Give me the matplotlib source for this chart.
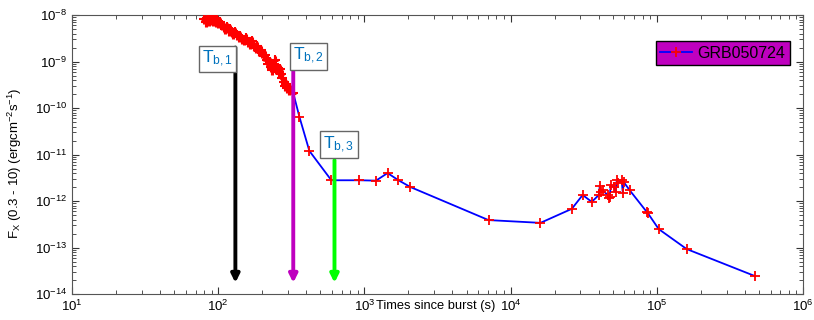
#!/usr/bin/env python3
# -*- coding: utf-8 -*-

import matplotlib
matplotlib.use('Agg')
import matplotlib.pyplot as plt
import numpy as np

plt.rcParams['font.family'] = ['Liberation Sans', 'DejaVu Sans']
plt.rcParams['mathtext.fontset'] = 'custom'
plt.rcParams['mathtext.rm'] = 'Liberation Sans'
plt.rcParams['mathtext.it'] = 'Liberation Sans'

################################################
# light curve of GRB050724 (time [s], flux [erg cm^-2 s^-1])
################################################
t_early = [80, 82, 84, 86, 88, 90, 92, 94, 96, 98, 100, 103, 106, 109, 112,
           115, 118, 121, 124, 127, 130, 134, 138, 142, 146, 150, 155, 160,
           165, 170, 175, 180, 185, 190, 195, 200, 205, 210, 215, 220, 225,
           230, 235, 240, 246, 250, 255, 260, 265, 270, 275, 280, 285, 290,
           297, 305, 312, 326]
f_early = [8.2e-9, 7.0e-9, 8.8e-9, 7.6e-9, 8.0e-9, 9.2e-9, 7.4e-9, 8.5e-9,
           7.1e-9, 7.8e-9, 6.6e-9, 7.2e-9, 6.0e-9, 5.6e-9, 5.0e-9, 5.4e-9,
           4.6e-9, 4.9e-9, 4.3e-9, 4.0e-9, 4.4e-9, 3.7e-9, 3.4e-9, 3.6e-9,
           3.1e-9, 2.9e-9, 3.2e-9, 2.6e-9, 2.4e-9, 2.7e-9, 2.2e-9, 2.0e-9,
           2.2e-9, 1.7e-9, 1.8e-9, 1.5e-9, 1.3e-9, 1.4e-9, 1.1e-9, 9.0e-10,
           1.0e-9, 7.5e-10, 6.5e-10, 7.8e-10, 1.1e-9, 6.8e-10, 7.2e-10,
           6.0e-10, 7.0e-10, 5.5e-10, 4.5e-10, 3.6e-10, 3.0e-10, 3.3e-10,
           2.7e-10, 2.5e-10, 2.6e-10, 2.1e-10]

t_late = [359, 420, 594, 925, 1200, 1440, 1710, 2065, 7060, 16000, 26200,
          31100, 35900, 40100, 40700, 41300, 42600, 46200, 46900, 47600,
          48400, 50700, 52400, 53200, 54000, 57500, 58500, 59400, 65300,
          85500, 86800, 103000, 160000, 469000]
f_late = [6.5e-11, 1.2e-11, 2.8e-12, 2.8e-12, 2.75e-12, 4.0e-12, 2.8e-12,
          2.0e-12, 3.9e-13, 3.4e-13, 6.8e-13, 1.35e-12, 9.6e-13, 1.35e-12,
          2.1e-12, 1.56e-12, 1.7e-12, 1.35e-12, 1.16e-12, 1.22e-12, 2.2e-12,
          2.0e-12, 1.56e-12, 2.83e-12, 2.44e-12, 2.83e-12, 1.49e-12,
          2.56e-12, 1.7e-12, 5.8e-13, 5.5e-13, 2.5e-13, 9.3e-14, 2.44e-14]

# break times: (time, top of arrow, label position, label, colour)
t_breaks = [131, 326, 624]
f_break_top = [2.0e-9, 1.5e-9, 7.6e-12]
label_pos = [(99, 1.13e-9), (413, 1.3e-9), (668, 1.64e-11)]
break_labels = [r'T$_{\mathregular{b,1}}$', r'T$_{\mathregular{b,2}}$', r'T$_{\mathregular{b,3}}$']
break_colors = ['black', '#BF00BF', '#00FF00']
f_arrow_tip = 1.75e-14

################################################
# plotting
################################################
def plot_curve(ax, t, f):
    """Draw the light curve with markers"""
    ax.plot(t, f, '-', color='#0000FF', lw=1.3, marker='+', mec='red',
            mfc='red', markersize=7, mew=1.3, label='GRB050724', zorder=2)

def plot_early_errors(ax, t, f):
    """Error bars of the dense early part"""
    t = np.asarray(t, dtype=float)
    f = np.asarray(f, dtype=float)
    ax.errorbar(t, f, xerr=0.04 * t, yerr=0.22 * f, fmt='+', color='red',
                ms=7, mew=1.5, elinewidth=2.2, capsize=0, zorder=3)

def plot_breaks(ax):
    """Arrows and labels at the break times"""
    for tb, ftop, pos, lab, clr in zip(t_breaks, f_break_top, label_pos,
                                         break_labels, break_colors):
        ax.annotate('', xy=(tb, f_arrow_tip), xytext=(tb, ftop),
                    arrowprops=dict(arrowstyle='-|>', color=clr, lw=2.8,
                                    mutation_scale=12, shrinkA=0, shrinkB=0),
                    zorder=4)
        ax.text(pos[0], pos[1], lab, color='#0072BD', fontsize=12.5,
                ha='center', va='center', zorder=5,
                bbox=dict(boxstyle='square,pad=0.18', fc='white', ec='#666666', lw=1))

fig = plt.figure(figsize=(8.14, 3.2), dpi=100)
ax = fig.add_axes([0.0885, 0.081, 0.898, 0.872])

t_all = t_early + t_late
f_all = f_early + f_late
plot_curve(ax, t_all, f_all)
plot_early_errors(ax, t_early, f_early)
plot_breaks(ax)

ax.set_xscale('log')
ax.set_yscale('log')
ax.set_xlim(10, 1e6)
ax.set_ylim(1e-14, 1e-8)
ax.tick_params(which='both', direction='in', top=True, right=True,
               labelsize=9.5, colors='#333333', labelcolor='black')
ax.tick_params(which='major', length=5)
ax.tick_params(which='minor', length=3)
ax.tick_params(axis='x', pad=3.5)
for sp in ax.spines.values():
    sp.set_color('#555555')

ax.set_ylabel(r'F$_{\mathregular{X}}$ (0.3 - 10) (ergcm$^{\mathregular{-2}}$s$^{\mathregular{-1}}$)',
              fontsize=9.5)
ax.yaxis.set_label_coords(-0.066, 0.47)
fig.text(376 / 814, 1 - 300 / 320, 'Times since burst (s)', fontsize=9.3,
         ha='left', va='top')

leg = ax.legend(loc='upper right', bbox_to_anchor=(0.982, 0.908),
                fontsize=11.5, fancybox=False, framealpha=1,
                handlelength=2.0, borderpad=0.3, handletextpad=0.3,
                borderaxespad=0)
leg.get_frame().set_facecolor('#BF00BF')
leg.get_frame().set_edgecolor('black')

fig.savefig('out.png', dpi=100)
